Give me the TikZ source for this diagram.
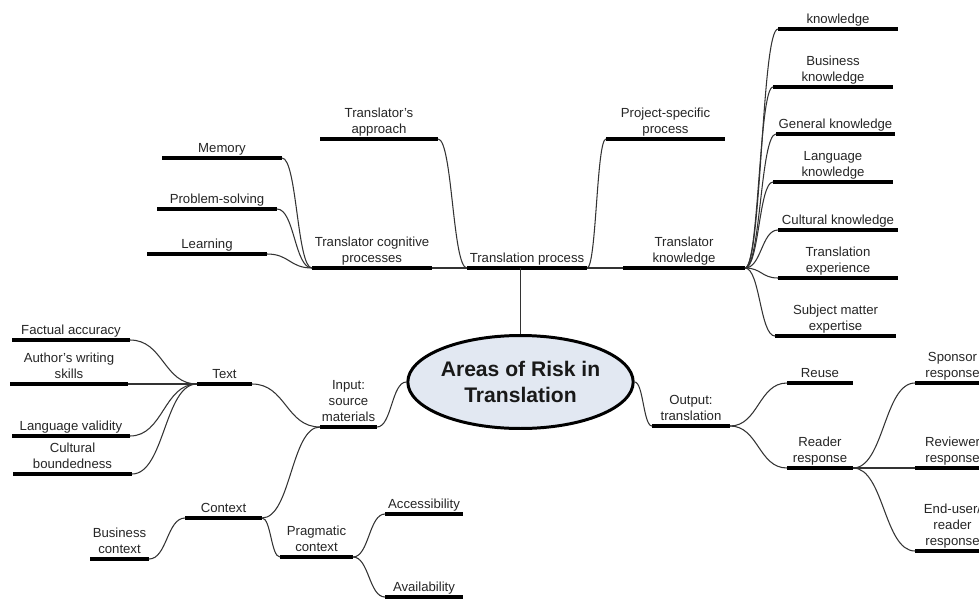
\documentclass[tikz,border=0pt]{standalone}
\usepackage{fontspec}
\setmainfont{Liberation Sans}
\usetikzlibrary{shapes.geometric,calc}
\definecolor{rootfill}{RGB}{226,232,242}
\newcommand\mmitem[5]{%
  \coordinate (#1L) at (#2,#4);
  \coordinate (#1R) at (#3,#4);
  \draw[uline] (#1L) -- (#1R);
  \node[lbl] (#1) at ({(#2+#3)/2},#4) {#5};
}
\tikzset{
  uline/.style={line width=1.9pt, black},
  edge/.style={line width=0.6pt, black!80},
  lbl/.style={anchor=south, inner sep=0pt, yshift=0.4pt, align=center,
    text=black!85, font=\fontsize{7.5}{9.1}\selectfont, execute at end node=\strut},
  mm/.style={to path={let \p1=(\tikztostart), \p2=(\tikztotarget) in
    .. controls ({0.5*\x1+0.5*\x2},\y1) and ({0.5*\x1+0.5*\x2},\y2) .. (\tikztotarget)}},
  rootnode/.style={ellipse, draw=black, line width=1.7pt, fill=rootfill,
    minimum width=3.84cm, minimum height=1.86cm, inner sep=0pt, align=center,
    text=black!90, font=\fontsize{12}{14.7}\selectfont\bfseries}
}
\begin{document}
\begin{tikzpicture}[x=0.02cm, y=-0.02cm]
\useasboundingbox (0,0) rectangle (979,598);
\clip (0,0) rectangle (979,598);
\fill[white] (0,0) rectangle (979,598);

\node[rootnode] (root) at (520.5,382) {Areas of Risk in\\Translation};

% upper branch
\mmitem{tp}{467}{587}{268}{Translation process}
\mmitem{cg}{312}{432}{268}{Translator cognitive\\processes}
\mmitem{ta}{320}{438}{139}{Translator's\\approach}
\mmitem{ps}{606}{725}{139}{Project-specific\\process}
\mmitem{kn}{623}{745}{268}{Translator\\knowledge}
\mmitem{mem}{162}{282}{158}{Memory}
\mmitem{pso}{157}{277}{209}{Problem-solving}
\mmitem{lea}{147}{267}{254}{Learning}
\mmitem{ka}{778}{898}{29}{knowledge}
\mmitem{kb}{773}{893}{87}{Business\\knowledge}
\mmitem{kc}{776}{895}{134}{General knowledge}
\mmitem{kd}{773}{893}{182}{Language\\knowledge}
\mmitem{ke}{778}{898}{230}{Cultural knowledge}
\mmitem{kf}{778}{898}{278}{Translation\\experience}
\mmitem{kg}{775}{896}{336}{Subject matter\\expertise}

% right branch
\mmitem{ot}{652}{730}{426}{Output:\\translation}
\mmitem{ru}{787}{853}{383}{Reuse}
\mmitem{rd}{787}{853}{468}{Reader\\response}
\mmitem{sp}{915}{990}{383}{Sponsor\\response}
\mmitem{rv}{915}{990}{468}{Reviewer\\response}
\mmitem{eu}{915}{990}{551}{End-user/\\reader\\response}

% left branch
\mmitem{in}{320}{377}{427}{Input:\\source\\materials}
\mmitem{tx}{197}{252}{384}{Text}
\mmitem{fa}{12}{130}{340}{Factual accuracy}
\mmitem{aw}{10}{128}{384}{Author's writing\\skills}
\mmitem{lv}{12}{130}{436}{Language validity}
\mmitem{cb}{13}{132}{474}{Cultural\\boundedness}
\mmitem{cx}{185}{262}{518}{Context}
\mmitem{bc}{90}{149}{559}{Business\\context}
\mmitem{pc}{280}{353}{557}{Pragmatic\\context}
\mmitem{ac}{385}{463}{514}{Accessibility}
\mmitem{av}{385}{463}{597}{Availability}

% connectors
\draw[edge] (root.north) -- (root.north |- tpL);
\draw[edge] (tpL) -- (cgR);
\draw[edge] (tpR) -- (knL);
\draw[edge] (tpL) to[mm] (taR);
\draw[edge] (tpR) to[mm] (psL);
\foreach \c in {mem,pso,lea} \draw[edge] (cgL) to[mm] (\c R);
\foreach \c in {ka,kb,kc,kd,ke,kf,kg} \draw[edge] (knR) to[mm] (\c L);

\draw[edge] (root.east) to[mm] (otL);
\draw[edge] (otR) to[mm] (ruL);
\draw[edge] (otR) to[mm] (rdL);
\foreach \c in {sp,rv,eu} \draw[edge] (rdR) to[mm] (\c L);

\draw[edge] (root.west) to[mm] (inR);
\draw[edge] (inL) to[mm] (txR);
\draw[edge] (inL) to[mm] (cxR);
\foreach \c in {fa,aw,lv,cb} \draw[edge] (txL) to[mm] (\c R);
\draw[edge] (cxL) to[mm] (bcR);
\draw[edge] (cxR) to[mm] (pcL);
\draw[edge] (pcR) to[mm] (acL);
\draw[edge] (pcR) to[mm] (avL);
\end{tikzpicture}
\end{document}
